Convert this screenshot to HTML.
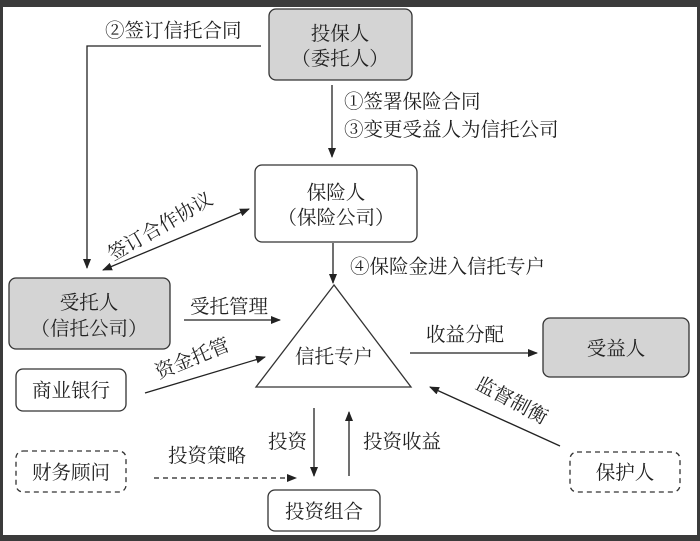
<!DOCTYPE html>
<html><head><meta charset="utf-8"><style>
html,body{margin:0;padding:0;background:#3b3b3b;}
svg{display:block;}
text{font-family:"Liberation Serif","Noto Serif CJK SC",serif;font-size:19.5px;fill:#222;}
</style></head><body>
<svg width="700" height="541" viewBox="0 0 700 541" xmlns="http://www.w3.org/2000/svg">
<defs>
<marker id="a" markerWidth="10" markerHeight="8" refX="9" refY="4" orient="auto" markerUnits="userSpaceOnUse">
<path d="M0,0 L10,4 L0,8 z" fill="#222"/></marker>
<marker id="s" markerWidth="10" markerHeight="8" refX="1" refY="4" orient="auto" markerUnits="userSpaceOnUse">
<path d="M10,0 L0,4 L10,8 z" fill="#222"/></marker>
</defs>
<rect x="3" y="7" width="694" height="528" fill="#fff"/>
<g stroke="#333" stroke-width="1.3" fill="none">
<rect x="269" y="9" width="143" height="71" rx="7" fill="#d4d4d4"/>
<rect x="255" y="165" width="162" height="77" rx="7" fill="#fff"/>
<rect x="9" y="278" width="161" height="71" rx="7" fill="#d4d4d4"/>
<rect x="16" y="369" width="110" height="42" rx="7" fill="#fff"/>
<rect x="543" y="318" width="146" height="59" rx="7" fill="#d4d4d4"/>
<rect x="16" y="451" width="110" height="41" rx="7" stroke-dasharray="5,4"/>
<rect x="570" y="452" width="110" height="40" rx="7" stroke-dasharray="5,4"/>
<rect x="268" y="490" width="112" height="41" rx="7" fill="#fff"/>
<polygon points="334,285 256,387 411,387" fill="#fff"/>
</g>
<g stroke="#222" stroke-width="1.3" fill="none">
<polyline points="261,46 87,46 87,268" marker-end="url(#a)"/>
<line x1="332" y1="85" x2="332" y2="157" marker-end="url(#a)"/>
<line x1="333" y1="243" x2="333" y2="283" marker-end="url(#a)"/>
<line x1="103" y1="270" x2="249" y2="209" marker-start="url(#s)" marker-end="url(#a)"/>
<line x1="184" y1="320" x2="280" y2="320" marker-end="url(#a)"/>
<line x1="145" y1="393" x2="265" y2="357" marker-end="url(#a)"/>
<line x1="410" y1="353" x2="537" y2="353" marker-end="url(#a)"/>
<line x1="560" y1="446" x2="430" y2="387" marker-end="url(#a)"/>
<line x1="314" y1="408" x2="314" y2="476" marker-end="url(#a)"/>
<line x1="349" y1="476" x2="349" y2="412" marker-end="url(#a)"/>
<line x1="154" y1="478" x2="296" y2="478" stroke-dasharray="5,4" marker-end="url(#a)"/>
</g>
<g text-anchor="middle">
<text x="340" y="40">投保人</text>
<text x="340" y="65">（委托人）</text>
<text x="336" y="199">保险人</text>
<text x="336" y="224">（保险公司）</text>
<text x="89" y="309">受托人</text>
<text x="89" y="335">（信托公司）</text>
<text x="71" y="397">商业银行</text>
<text x="616" y="355">受益人</text>
<text x="71" y="479">财务顾问</text>
<text x="625" y="479">保护人</text>
<text x="324" y="518">投资组合</text>
<text x="334" y="363">信托专户</text>
</g>
<text x="105" y="37">②签订信托合同</text>
<text x="344" y="108">①签署保险合同</text>
<text x="344" y="136">③变更受益人为信托公司</text>
<text x="350" y="273">④保险金进入信托专户</text>
<text x="190" y="313">受托管理</text>
<text x="426" y="341">收益分配</text>
<text x="268" y="448">投资</text>
<text x="363" y="448">投资收益</text>
<text x="168" y="462">投资策略</text>
<text x="160" y="233" text-anchor="middle" transform="rotate(-30 160 226)">签订合作协议</text>
<text x="192" y="365" text-anchor="middle" transform="rotate(-22 192 358)">资金托管</text>
<text x="512" y="407" text-anchor="middle" transform="rotate(28 512 400)">监督制衡</text>
</svg>
</body></html>
